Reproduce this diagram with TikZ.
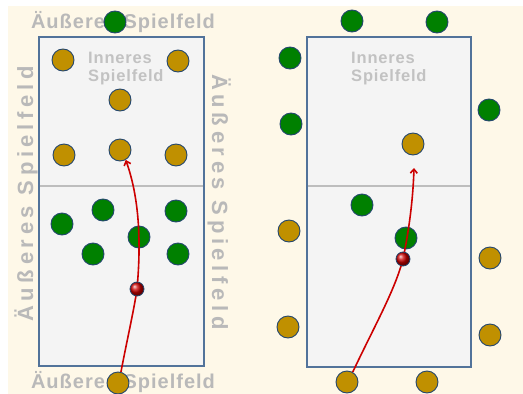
\documentclass[tikz,border=0pt]{standalone}
\usepackage{fontspec}
\usetikzlibrary{arrows.meta}
\newfontfamily\outerfont[LetterSpace=5]{Liberation Sans}
\newfontfamily\sidefont[LetterSpace=21]{Liberation Sans}
\newfontfamily\innerfont[LetterSpace=5]{Liberation Sans}
\definecolor{cream}{HTML}{FEF8E8}
\definecolor{courtfill}{HTML}{F4F4F4}
\definecolor{courtline}{HTML}{52739A}
\definecolor{midline}{HTML}{BDBDBD}
\definecolor{outertxt}{HTML}{B9B9B9}
\definecolor{innertxt}{HTML}{C2C2C2}
\definecolor{goldc}{HTML}{C09000}
\definecolor{greenc}{HTML}{008000}
\definecolor{rim}{HTML}{23466E}
\definecolor{pathred}{HTML}{CC0000}
\tikzset{
  court/.style={fill=courtfill,draw=courtline,line width=1.5pt},
  gold/.style={circle,minimum size=22pt,inner sep=0pt,fill=goldc,draw=rim,line width=0.9pt},
  green/.style={circle,minimum size=22pt,inner sep=0pt,fill=greenc,draw=rim,line width=0.9pt},
  ballnode/.style={circle,minimum size=14pt,inner sep=0pt,ball color=red!80!black,draw=rim,line width=0.8pt},
  outerlbl/.style={text=outertxt,inner sep=0pt,font={\outerfont\bfseries\fontsize{20}{22}\selectfont}},
  sidelbl/.style={text=outertxt,inner sep=0pt,font={\sidefont\bfseries\fontsize{22}{24}\selectfont}},
  innerlbl/.style={text=innertxt,inner sep=0pt,align=left,font={\innerfont\bfseries\fontsize{16.5}{17.5}\selectfont}},
  runpath/.style={draw=pathred,line width=1.6pt,-{Straight Barb[length=4pt,width=7pt]}}
}
\begin{document}
\begin{tikzpicture}[x=1pt,y=-1pt]
\useasboundingbox (0,0) rectangle (523,394);
\fill[white] (0,0) rectangle (523,394);
\fill[cream] (8,6) rectangle (523,394);

% courts
\draw[court] (39,37) rectangle (204,366);
\draw[midline,line width=2pt] (39.8,186) -- (203.2,186);
\draw[court] (307,37) rectangle (471,367);
\draw[midline,line width=2pt] (307.8,186) -- (470.2,186);

% labels
\node[outerlbl,anchor=base] (ltop) at (123,28) {Äußeres Spielfeld};
\node[outerlbl,anchor=base] (lbot) at (123,388) {Äußeres Spielfeld};
\node[sidelbl,anchor=base,rotate=90] (lleft) at (33,194) {Äußeres Spielfeld};
\node[sidelbl,anchor=base,rotate=-90] (lright) at (212,202) {Äußeres Spielfeld};
\node[innerlbl,anchor=north west] (linner) at (88,52) {Inneres\\Spielfeld};
\node[innerlbl,anchor=north west] (rinner) at (351,52) {Inneres\\Spielfeld};

% left court players
\node[green] (lgt) at (115,22) {};
\node[gold] (ly1) at (63,60) {};
\node[gold] (ly2) at (178,61) {};
\node[gold] (ly3) at (120,100) {};
\node[gold] (ly4) at (64,155) {};
\node[gold] (ly5) at (120,150) {};
\node[gold] (ly6) at (176,155) {};
\node[green] (lg1) at (62,224) {};
\node[green] (lg2) at (103,210) {};
\node[green] (lg3) at (176,211) {};
\node[green] (lg4) at (139,237) {};
\node[green] (lg5) at (93,254) {};
\node[green] (lg6) at (178,254) {};
\node[gold] (lyb) at (118,383) {};
\coordinate (lballpos) at (137,289);

% right court players
\node[green] (rg1) at (352,21) {};
\node[green] (rg2) at (437,22) {};
\node[green] (rg3) at (290,58) {};
\node[green] (rg4) at (291,124) {};
\node[green] (rg5) at (489,110) {};
\node[gold] (ry1) at (413,144) {};
\node[green] (rg6) at (362,205) {};
\node[green] (rg7) at (406,238) {};
\node[gold] (ry2) at (289,231) {};
\node[gold] (ry3) at (490,258) {};
\node[gold] (ry4) at (288,327) {};
\node[gold] (ry5) at (490,335) {};
\node[gold] (ry6) at (347,382) {};
\node[gold] (ry7) at (427,382) {};
\coordinate (rballpos) at (403,259);
\coordinate (rtip) at (414,168);

% ball paths
\draw[runpath] (lyb.75) .. controls (127,340) and (134,310) .. (lballpos)
  .. controls (141,245) and (140,200) .. (ly5.-60);
\draw[runpath] (ry6.60) .. controls (375,325) and (395,290) .. (rballpos)
  .. controls (409,230) and (413,200) .. (rtip);

% balls
\node[ballnode] (lball) at (lballpos) {};
\node[ballnode] (rball) at (rballpos) {};
\end{tikzpicture}
\end{document}
